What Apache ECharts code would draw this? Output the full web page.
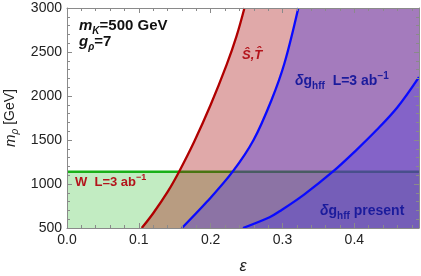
<!DOCTYPE html>
<html><head><meta charset="utf-8">
<script src="https://cdn.jsdelivr.net/npm/echarts@6/dist/echarts.min.js"></script>
<style>html,body{margin:0;padding:0;background:#fff}#c{width:421px;height:276px}</style>
</head><body><div id="c"></div>
<script>
// ---- data ----
const X_MIN = 0, X_MAX = 0.49, X_STEP = 0.1, X_MINOR = 0.02;
const Y_MIN = 500, Y_MAX = 3000, Y_STEP = 500;
const xTickLabels = ['0.0', '0.1', '0.2', '0.3', '0.4'];
const yTickLabels = ['500', '1000', '1500', '2000', '2500', '3000'];
// W parameter bound (L = 3 ab^-1): m_rho below this excluded
const wBoundEps = [0, 0.49];
const wBoundMrho = [1140, 1140];
// S-hat, T-hat bound
const stEps  = [0.104, 0.12, 0.14, 0.156, 0.177, 0.2, 0.222, 0.236, 0.247];
const stMrho = [500, 668, 910, 1140, 1480, 1900, 2350, 2680, 3000];
// delta g_hff, L = 3 ab^-1
const hffFutEps  = [0.160, 0.195, 0.2306, 0.2597, 0.2847, 0.3028, 0.322];
const hffFutMrho = [500, 800, 1140, 1500, 1955, 2375, 3000];
// delta g_hff, present
const hffNowEps  = [0.245, 0.282, 0.296, 0.33, 0.37, 0.4024, 0.4306, 0.46, 0.49];
const hffNowMrho = [500, 622, 690, 880, 1140, 1383, 1610, 1873, 2215];

const FONT = '"Liberation Sans", Arial, sans-serif';
const pairs = (xs, ys) => xs.map((x, i) => [x, ys[i]]);
// region right of a curve: curve + top-right corner of the plot if curve leaves through the top
function region(xs, ys) {
  const p = pairs(xs, ys);
  if (ys[ys.length - 1] >= Y_MAX) p.push([X_MAX, Y_MAX]);
  return p;
}

const chart = echarts.init(document.getElementById('c'), null, {renderer: 'canvas'});

const axisGray = '#8a8a8a';
function xAx(pos, major) {
  return {
    type: 'value', position: pos, min: X_MIN, max: X_MAX,
    interval: major ? X_STEP : X_MINOR, z: 10,
    axisLine: {show: major, onZero: false, lineStyle: {color: axisGray, width: 1}},
    axisTick: {show: true, inside: true, length: major ? 5 : 3, lineStyle: {color: axisGray}},
    splitLine: {show: false},
    axisLabel: {
      show: major && pos === 'bottom', fontSize: 14, color: '#222', fontFamily: FONT, margin: 5,
      formatter: v => {
        const k = Math.round(v / X_STEP);
        return Math.abs(v - k * X_STEP) < 1e-6 && xTickLabels[k] ? xTickLabels[k] : '';
      }
    },
    name: major && pos === 'bottom' ? 'ε' : '',
    nameLocation: 'middle', nameGap: 31,
    nameTextStyle: {fontSize: 16, fontStyle: 'italic', color: '#222', fontFamily: FONT}
  };
}
function yAx(pos) {
  return {
    type: 'value', position: pos, min: Y_MIN, max: Y_MAX, interval: Y_STEP, z: 10,
    axisLine: {show: true, onZero: false, lineStyle: {color: axisGray, width: 1}},
    axisTick: {show: true, inside: true, length: 5, lineStyle: {color: axisGray}},
    minorTick: {show: true, splitNumber: 5, length: 3, lineStyle: {color: axisGray}},
    splitLine: {show: false},
    axisLabel: {
      show: pos === 'left', fontSize: 14, color: '#222', fontFamily: FONT, margin: 5,
      formatter: v => { const k = Math.round((v - Y_MIN) / Y_STEP); return yTickLabels[k] || ''; }
    },
    name: pos === 'left' ? '{i|m}{s|ρ}{n| [GeV]}' : '',
    nameLocation: 'middle', nameRotate: 90, nameGap: 42,
    nameTextStyle: {
      color: '#222', fontFamily: FONT, fontSize: 14,
      rich: {
        i: {fontSize: 15, fontStyle: 'italic', color: '#222', fontFamily: FONT, lineHeight: 14},
        s: {fontSize: 10, fontStyle: 'italic', color: '#222', fontFamily: FONT, lineHeight: 10, padding: [9, 0, 0, 0]},
        n: {fontSize: 14, color: '#222', fontFamily: FONT, lineHeight: 14}
      }
    }
  };
}

function richStyle(color, size) {
  const base = {color, fontFamily: FONT, fontWeight: 'bold', fontSize: size, lineHeight: 14};
  const small = Math.round(size * 0.68);
  return {
    color, fontFamily: FONT, fontWeight: 'bold', fontSize: size,
    rich: {
      b: Object.assign({}, base),
      i: Object.assign({}, base, {fontStyle: 'italic'}),
      s: Object.assign({}, base, {fontSize: small, lineHeight: 9, padding: [10, 0, 0, 0]}),
      si: Object.assign({}, base, {fontSize: small, lineHeight: 9, fontStyle: 'italic', padding: [10, 0, 0, 0]}),
      p: Object.assign({}, base, {fontSize: small, lineHeight: 9, padding: [0, 0, 9, 0]})
    }
  };
}
const RED_T = '#b3141c', BLUE_T = '#1b1b9c';
function note(text, left, top, color, size) {
  return {text, left, top, padding: 0, textStyle: richStyle(color, size || 13)};
}

const option = {
  animation: false,
  backgroundColor: '#fff',
  grid: {left: 67, right: 2, top: 8, bottom: 48, containLabel: false, outerBoundsMode: 'none'},
  xAxis: [xAx('bottom', true), xAx('bottom', false), xAx('top', true), xAx('top', false)],
  yAxis: [yAx('left'), yAx('right')],
  title: [
    note('{i|m}{si|K}{b|=500 GeV}', 79, 19, '#111', 15),
    note('{i|g}{si|ρ}{b|=7}', 79, 35, '#111', 15),
    note('{i|Ŝ,T\u0302}', 242, 48, RED_T, 13),
    note('{i|δ}{b|g}{s|hff}{b|  L=3 ab}{p|−1}', 295, 74, BLUE_T, 14),
    note('{i|δ}{b|g}{s|hff}{b| present}', 320, 204, BLUE_T, 14),
    note('{b|W  L=3 ab}{p|−1}', 75, 175, RED_T, 13)
  ],
  series: [
    { // W bound: green area below the line
      type: 'line', name: 'W', xAxisIndex: 0, yAxisIndex: 0, z: 1,
      data: pairs(wBoundEps, wBoundMrho), symbol: 'none',
      lineStyle: {color: '#18b018', width: 2.5},
      areaStyle: {color: 'rgba(0,175,0,0.24)', origin: 'start', opacity: 1}
    },
    { // S,T excluded region
      type: 'line', xAxisIndex: 0, yAxisIndex: 0, z: 2,
      data: region(stEps, stMrho), symbol: 'none',
      lineStyle: {width: 0, opacity: 0},
      areaStyle: {color: 'rgba(165,10,10,0.35)', origin: 'start', opacity: 1}
    },
    { // hff future region
      type: 'line', xAxisIndex: 0, yAxisIndex: 0, z: 3,
      data: region(hffFutEps, hffFutMrho), symbol: 'none',
      lineStyle: {width: 0, opacity: 0},
      areaStyle: {color: 'rgba(75,55,220,0.40)', origin: 'start', opacity: 1}
    },
    { // hff present region
      type: 'line', xAxisIndex: 0, yAxisIndex: 0, z: 4,
      data: region(hffNowEps, hffNowMrho), symbol: 'none',
      lineStyle: {width: 0, opacity: 0},
      areaStyle: {color: 'rgba(75,55,220,0.35)', origin: 'start', opacity: 1}
    },
    {
      type: 'line', xAxisIndex: 0, yAxisIndex: 0, z: 5,
      data: pairs(stEps, stMrho), symbol: 'none', smooth: 0.35,
      lineStyle: {color: '#b00000', width: 2.3}
    },
    {
      type: 'line', xAxisIndex: 0, yAxisIndex: 0, z: 5,
      data: pairs(hffFutEps, hffFutMrho), symbol: 'none', smooth: 0.35,
      lineStyle: {color: '#0a0aff', width: 2.3}
    },
    {
      type: 'line', xAxisIndex: 0, yAxisIndex: 0, z: 5,
      data: pairs(hffNowEps, hffNowMrho), symbol: 'none', smooth: 0.35,
      lineStyle: {color: '#0a0aff', width: 2.3}
    }
  ]
};
chart.setOption(option);
</script>
</body></html>
